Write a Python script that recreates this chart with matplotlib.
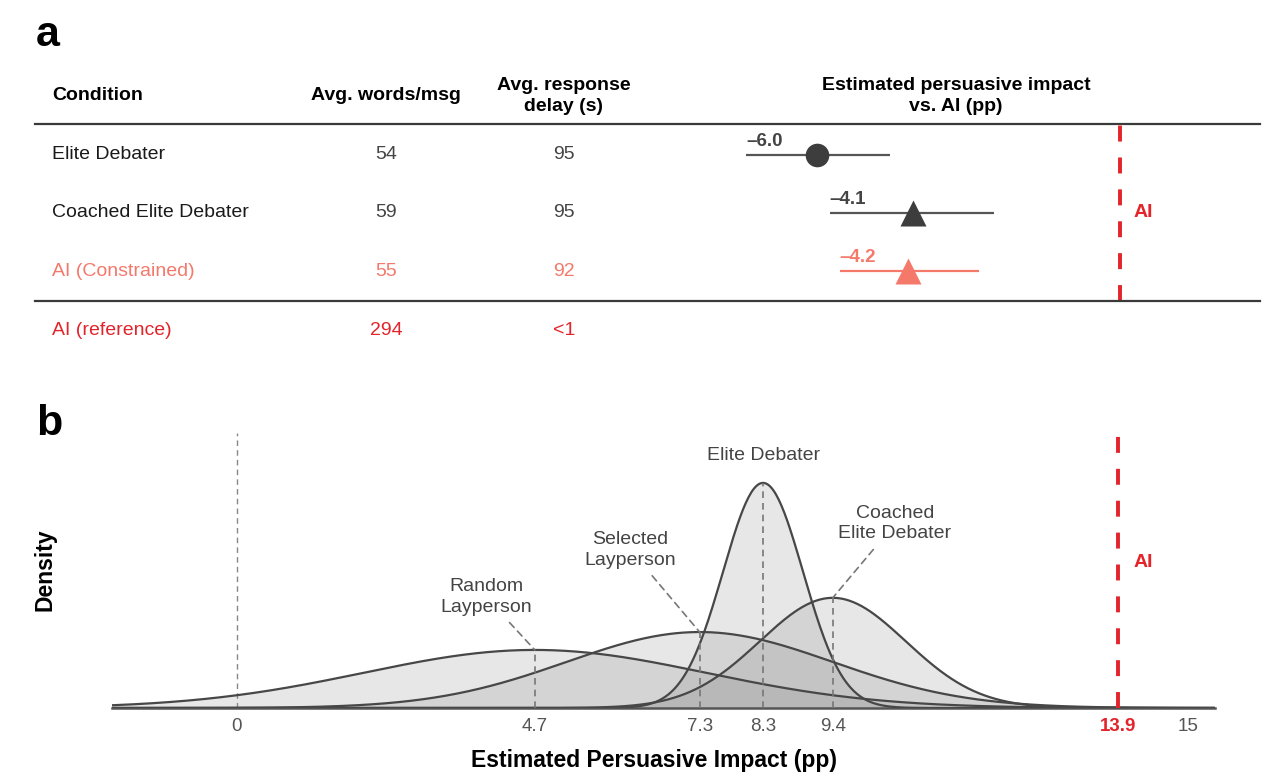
import numpy as np
import matplotlib
matplotlib.use("Agg")
import matplotlib.pyplot as plt
import matplotlib.transforms as mtransforms

plt.rcParams['font.family'] = ['Liberation Sans', 'DejaVu Sans']

# ---- panel a data ----
conditions = ["Elite Debater", "Coached Elite Debater", "AI (Constrained)"]
words_per_msg = [54, 59, 55]
response_delay = [95, 95, 92]
impact = [-6.0, -4.1, -4.2]
impact_lo = [-7.4, -5.75, -5.55]
impact_hi = [-4.55, -2.5, -2.8]
markers = ["o", "^", "^"]
ref_label = "AI (reference)"
ref_words = "294"
ref_delay = "<1"

# ---- panel b data ----
groups = ["Random\nLayperson", "Selected\nLayperson", "Elite Debater", "Coached\nElite Debater"]
means = [4.7, 7.3, 8.3, 9.4]
sds = [2.7, 2.1, 0.63, 1.15]
peaks = [0.146, 0.191, 0.566, 0.277]
ai_value = 13.9
xticks = [0, 4.7, 7.3, 8.3, 9.4, 13.9, 15]

DARK = "#444444"
SALMON = "#F4796B"
RED = "#E3242B"
row_colors = ["#1a1a1a", "#1a1a1a", SALMON]
num_colors = [DARK, DARK, SALMON]
pt_colors = ["#3d3d3d", "#3d3d3d", SALMON]

W, H = 1280, 784
fig = plt.figure(figsize=(W / 100, H / 100), dpi=100)


def box(l, t, r, b):
    return [l / W, 1 - b / H, (r - l) / W, (b - t) / H]


# ================= panel a =================
ax_a = fig.add_axes(box(35, 124, 1260, 301))
ax_a.set_xlim((35 - 1120) / 50.5, (1260 - 1120) / 50.5)
ax_a.set_ylim(2.517, -0.534)
for s in ["left", "right"]:
    ax_a.spines[s].set_visible(False)
for s in ["top", "bottom"]:
    ax_a.spines[s].set_color("#3a3a3a")
    ax_a.spines[s].set_linewidth(1.6)
ax_a.set_xticks([])
ax_a.set_yticks([])

tr = mtransforms.blended_transform_factory(ax_a.transAxes, ax_a.transData)
col_cond, col_words, col_delay, col_imp = 0.0139, 0.2865, 0.4318, 0.752

hdr_y = -1.03
ax_a.text(col_cond, hdr_y, "Condition", transform=tr, ha="left", va="center",
          fontsize=14, fontweight="bold", clip_on=False)
ax_a.text(col_words, hdr_y, "Avg. words/msg", transform=tr, ha="center", va="center",
          fontsize=14, fontweight="bold", clip_on=False)
ax_a.text(col_delay, hdr_y + 0.02, "Avg. response\ndelay (s)", transform=tr, ha="center",
          va="center", fontsize=14, fontweight="bold", linespacing=1.3, clip_on=False)
ax_a.text(col_imp, hdr_y + 0.02, "Estimated persuasive impact\nvs. AI (pp)", transform=tr,
          ha="center", va="center", fontsize=14, fontweight="bold", linespacing=1.3,
          clip_on=False)

for i, name in enumerate(conditions):
    ax_a.text(col_cond, i, name, transform=tr, ha="left", va="center", fontsize=14,
              color=row_colors[i])
    ax_a.text(col_words, i, str(words_per_msg[i]), transform=tr, ha="center", va="center",
              fontsize=14, color=num_colors[i])
    ax_a.text(col_delay, i, str(response_delay[i]), transform=tr, ha="center", va="center",
              fontsize=14, color=num_colors[i])
    # forest plot row
    ax_a.hlines(i, impact_lo[i], impact_hi[i], color=pt_colors[i] if i == 2 else "#555555",
                lw=1.6, zorder=2)
    ax_a.plot(impact[i], i, marker=markers[i], ms=17 if markers[i] == "o" else 19,
              color=pt_colors[i], mec="none", zorder=3)
    ax_a.text(impact_lo[i], i - 0.08, f"{impact[i]:.1f}".replace("-", "\u2013"),
              ha="left", va="bottom", fontsize=13.5, fontweight="bold",
              color="#444444" if i < 2 else SALMON)

ref_y = 3.017
ax_a.text(col_cond, ref_y, ref_label, transform=tr, ha="left", va="center", fontsize=14,
          color=RED, clip_on=False)
ax_a.text(col_words, ref_y, ref_words, transform=tr, ha="center", va="center", fontsize=14,
          color=RED, clip_on=False)
ax_a.text(col_delay, ref_y, ref_delay, transform=tr, ha="center", va="center", fontsize=14,
          color=RED, clip_on=False)

ax_a.axvline(0, color=RED, lw=2.8, linestyle=(0, (4.1, 4.1)), zorder=1)
ax_a.text(0.27, 1, "AI", ha="left", va="center", fontsize=14, fontweight="bold", color=RED)

fig.text(36 / W, 1 - 35 / H, "a", ha="left", va="center", fontsize=31, fontweight="bold")

# ================= panel b =================
ax_b = fig.add_axes(box(112, 430, 1215, 708))
xmin, xmax = -1.97, 15.43
ymax = 0.699
ax_b.set_xlim(xmin, xmax)
ax_b.set_ylim(0, ymax)

xs = np.linspace(xmin, xmax, 800)
for m, s, p in zip(means, sds, peaks):
    ys = p * np.exp(-0.5 * ((xs - m) / s) ** 2)
    ax_b.fill_between(xs, 0, ys, color="#888888", alpha=0.2, lw=0, zorder=1)
for m, s, p in zip(means, sds, peaks):
    ys = p * np.exp(-0.5 * ((xs - m) / s) ** 2)
    ax_b.plot(xs, ys, color="#474747", lw=1.6, zorder=3)

ax_b.vlines(means, 0, peaks, colors="#777777", lw=1.2, linestyles=(0, (4, 3)), zorder=4)
ax_b.vlines(0, 0, 0.692, colors="#888888", lw=1.0, linestyles=(0, (4, 3)), zorder=2)
ax_b.vlines(ai_value, 0, 0.692, colors=RED, lw=2.8, linestyles=(0, (4.1, 4.1)), zorder=5)
ax_b.text(14.15, 0.365, "AI", ha="left", va="center", fontsize=14, fontweight="bold",
          color=RED)

label_pos = [(3.93, 0.279), (6.21, 0.397), (8.31, 0.636), (10.38, 0.463)]
for g, m, p, (tx, ty) in zip(groups, means, peaks, label_pos):
    if "\n" in g:
        ax_b.annotate(g, xy=(m, p), xytext=(tx, ty), ha="center", va="center",
                      fontsize=14, color="#444444", linespacing=1.25,
                      arrowprops=dict(arrowstyle="-", linestyle=(0, (4, 3)), color="#777777",
                                      lw=1.2, shrinkA=4, shrinkB=0))
    else:
        ax_b.text(tx, ty, g, ha="center", va="center", fontsize=14, color="#444444")

for s in ["left", "right", "top"]:
    ax_b.spines[s].set_visible(False)
ax_b.spines["bottom"].set_color("#555555")
ax_b.spines["bottom"].set_linewidth(1.8)
ax_b.set_yticks([])
ax_b.set_xticks(xticks)
ax_b.set_xticklabels([("%g" % t) for t in xticks])
ax_b.tick_params(axis="x", length=0, pad=7, labelsize=13.5, labelcolor="#555555")
for lab, t in zip(ax_b.get_xticklabels(), xticks):
    if t == ai_value:
        lab.set_color(RED)
        lab.set_fontweight("bold")

fig.text(654 / W, 1 - 760 / H, "Estimated Persuasive Impact (pp)", ha="center", va="center",
         fontsize=16.5, fontweight="bold")
fig.text(45 / W, 1 - 570 / H, "Density", ha="center", va="center", rotation=90,
         fontsize=16.5, fontweight="bold")
fig.text(36 / W, 1 - 424 / H, "b", ha="left", va="center", fontsize=31, fontweight="bold")

fig.savefig("out.png", dpi=100)
